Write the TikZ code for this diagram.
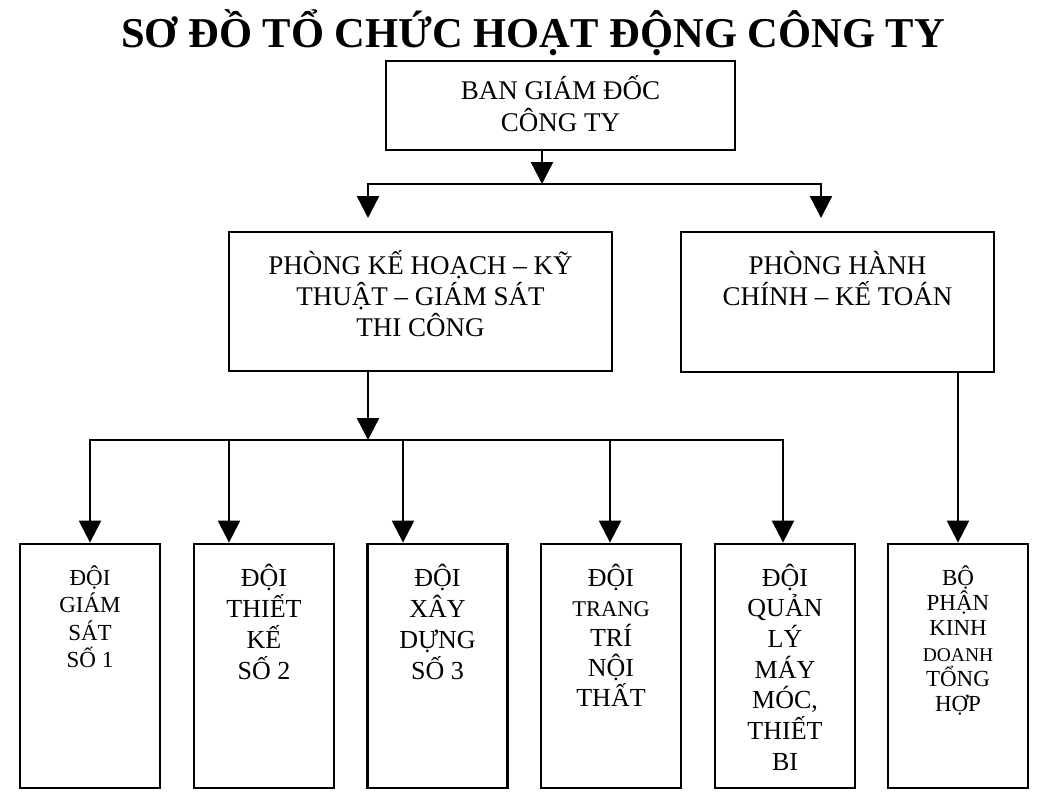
\documentclass[tikz,border=0pt]{standalone}
\usepackage{fontspec}
\setmainfont{Liberation Serif}
\usetikzlibrary{positioning,arrows.meta}
\newcommand{\setfs}[2]{\fontsize{#1}{#2}\selectfont}
\tikzset{
  box/.style={draw,line width=2.8pt,inner sep=0pt},
  lbl/.style={inner sep=0pt,align=center},
  line/.style={line width=2.4pt},
  conn/.style={line width=2.4pt,-{Triangle[length=22pt,width=22pt]}},
  conn2/.style={line width=2.4pt,{Triangle[length=22pt,width=22pt]}-{Triangle[length=22pt,width=22pt]}},
}
\begin{document}
\begin{tikzpicture}[x=1pt,y=-1pt]
\useasboundingbox (0,0) rectangle (1062,801);
\def\bw{140};
\def\bh{244};
\node[anchor=base,inner sep=0pt,font=\setfs{42.5}{48}\bfseries] (title) at (533,47.5) {SƠ ĐỒ TỔ CHỨC HOẠT ĐỘNG CÔNG TY};
%top boxes
\node[box,minimum width=349pt,minimum height=89pt] (bgd) at (560.5,105.5) {};
\node[lbl,font=\setfs{27}{32},below=16pt of bgd.north] (bgdtxt) {BAN GIÁM ĐỐC\\CÔNG TY};
\node[box,minimum width=383pt,minimum height=139pt] (kh) at (420.5,301.5) {};
\node[lbl,font=\setfs{27}{31},below=20pt of kh.north] (khtxt) {PHÒNG KẾ HOẠCH – KỸ\\THUẬT – GIÁM SÁT\\THI CÔNG};
\node[box,minimum width=313pt,minimum height=140pt] (hc) at (837.5,302) {};
\node[lbl,font=\setfs{27}{31},below=21pt of hc.north] (hctxt) {PHÒNG HÀNH\\CHÍNH – KẾ TOÁN};
%bottom boxes
\foreach\n/\x/\s/\k/\o/\t in {
  1/90/23/27.3/23/{ĐỘI\\GIÁM\\SÁT\\SỐ 1},
  2/264/26/31/21/{ĐỘI\\THIẾT\\KẾ\\SỐ 2},
  3/437.5/26/31/21/{ĐỘI\\XÂY\\DỰNG\\SỐ 3},
  4/611/26/30/21/{ĐỘI\\{\setfs{22.5}{30}TRANG}\\TRÍ\\NỘI\\THẤT},
  5/785/26/30.7/21/{ĐỘI\\QUẢN\\LÝ\\MÁY\\MÓC,\\THIẾT\\BI},
  6/958/23/25.2/23/{BỘ\\PHẬN\\KINH\\{\setfs{19.5}{25}DOANH}\\TỔNG\\HỢP}} {
  \node[box,minimum width=\bw pt,minimum height=\bh pt] (b\n) at (\x,666) {};
  \node[lbl,font=\setfs{\s}{\k},below=\o pt of b\n.north] (t\n) {\t};
}
%arrows
\coordinate (j0) at (542,184);
\coordinate (j1) at (368,184);
\coordinate (j2) at (821,184);
\coordinate (e1) at (368,218);
\coordinate (e2) at (821,218);
\draw[conn] (j0 |- bgd.south) -- (j0);
\draw[conn2] (e1) -- (j1) -- (j2) -- (e2);
\coordinate (j3) at (368,440);
\draw[conn] (j3 |- kh.south) -- (j3);
\foreach\n/\a in {1/90,2/229,3/403,4/610,5/783} {
  \coordinate (d\n) at (\a,440);
}
\draw[conn2] (d1 |- b1.north) -- (d1) -- (d5) -- (d5 |- b5.north);
\foreach\n in {2,3,4} {
  \draw[conn] (d\n) -- (d\n |- b\n.north);
}
\draw[conn] (b6.north |- hc.south) -- (b6.north);
\end{tikzpicture}
\end{document}
